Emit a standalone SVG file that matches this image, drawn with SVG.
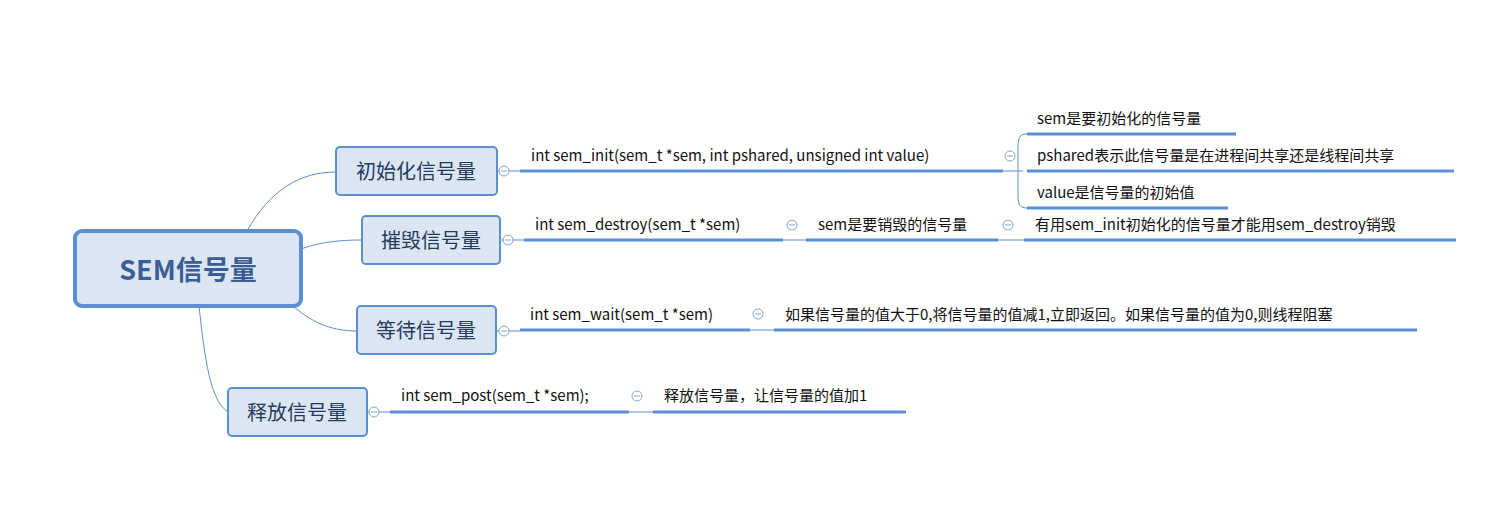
<svg xmlns="http://www.w3.org/2000/svg" width="1490" height="532" viewBox="0 0 1490 532">
<style>
text{font-family:"Noto Sans CJK SC","Liberation Sans",sans-serif;fill:#111}
.n rect{fill:#dce6f2;stroke:#5b8fd4;stroke-width:2}
.n text{font-size:20px;fill:#243a5e;text-anchor:middle}
.u{stroke:#5b8fd4;stroke-width:3;fill:none}
.t{stroke:#5b8fd4;stroke-width:1;fill:none}
.c{fill:#fff;stroke:#7fa3d6;stroke-width:1}
.l{font-size:15px}
</style>
<rect width="1490" height="532" fill="#fff"/>
<g id="connectors">
<path class="t" d="M247,231 C270,190 300,172 336,172"/>
<path class="t" d="M301,249 C320,242 340,240 362,240"/>
<path class="t" d="M293,306 C315,325 335,331 357,331"/>
<path class="t" d="M199,306 C205,360 210,400 228,412"/>
<path class="t" d="M497,171 H520 M500,240 H524 M496,331 H520 M367,412 H390"/>
<path class="t" d="M1003,171 H1023 M783,240 H806 M998,240 H1024 M750,330 H774 M629,412 H653"/>
<path class="t" d="M1027,134 C1018,134 1018,140 1018,150 V192 C1018,202 1018,208 1027,208"/>
<path class="u" d="M520,171 H1003 M1027,134 H1236 M1027,171 H1454 M1027,208 H1228 M524,240 H783 M806,240 H998 M1024,240 H1456 M520,330 H750 M774,330 H1417 M390,412 H629 M653,412 H906"/>
<g class="c">
<circle cx="504" cy="171" r="5"/><circle cx="508" cy="240" r="5"/><circle cx="504" cy="331" r="5"/><circle cx="374" cy="412" r="5"/>
<circle cx="1010" cy="156" r="5"/><circle cx="792" cy="225" r="5"/><circle cx="1008" cy="225" r="5"/><circle cx="758" cy="314" r="5"/><circle cx="637" cy="396" r="5"/>
</g>
<path d="M501,171H507M505,240H511M501,331H507M371,412H377M1007,156H1013M789,225H795M1005,225H1011M755,314H761M634,396H640" stroke="#7fa3d6" stroke-width="1"/>
</g>
<g id="root"><rect x="75" y="231" width="226" height="75" rx="7" fill="#dce6f2" stroke="#5b8fd4" stroke-width="4"/><text x="188" y="280" font-size="27" font-weight="bold" text-anchor="middle" style="fill:#3a5d96">SEM信号量</text></g>
<g id="n1" class="n"><rect x="336" y="147" width="161" height="48" rx="4"/><text x="416" y="179">初始化信号量</text></g>
<g id="n2" class="n"><rect x="362" y="216" width="138" height="48" rx="4"/><text x="431" y="248">摧毁信号量</text></g>
<g id="n3" class="n"><rect x="357" y="306" width="139" height="48" rx="4"/><text x="426" y="338">等待信号量</text></g>
<g id="n4" class="n"><rect x="228" y="388" width="139" height="48" rx="4"/><text x="297" y="420">释放信号量</text></g>
<g class="l">
<text x="531" y="161">int sem_init(sem_t *sem, int pshared, unsigned int value)</text>
<text x="1037" y="124">sem是要初始化的信号量</text>
<text x="1037" y="161">pshared表示此信号量是在进程间共享还是线程间共享</text>
<text x="1037" y="198">value是信号量的初始值</text>
<text x="535" y="230">int sem_destroy(sem_t *sem)</text>
<text x="818" y="230">sem是要销毁的信号量</text>
<text x="1035" y="230">有用sem_init初始化的信号量才能用sem_destroy销毁</text>
<text x="530" y="320">int sem_wait(sem_t *sem)</text>
<text x="785" y="320">如果信号量的值大于0,将信号量的值减1,立即返回。如果信号量的值为0,则线程阻塞</text>
<text x="401" y="401">int sem_post(sem_t *sem);</text>
<text x="664" y="401">释放信号量，让信号量的值加1</text>
</g>
</svg>
